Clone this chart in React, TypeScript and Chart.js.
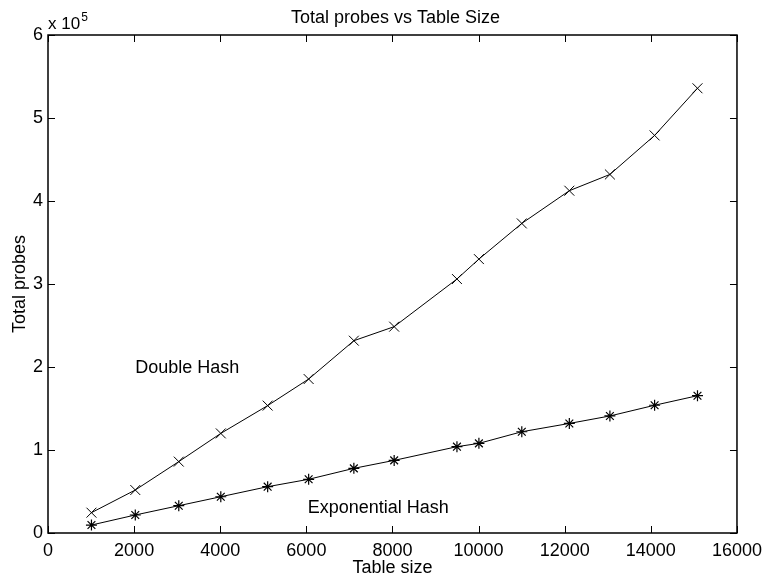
import React, { useEffect, useRef } from "react";
import { Chart, registerables } from "chart.js";

Chart.register(...registerables);

const tableSizes = [1009, 2027, 3037, 4013, 5101, 6053, 7103, 8039, 9497, 10007, 11003, 12107, 13049, 14087, 15083];
const doubleHash = [24500, 51800, 86000, 120000, 153500, 185500, 231700, 248600, 306000, 330000, 373000, 412400, 432000, 479000, 535800];
const exponentialHash = [9600, 21700, 32900, 43700, 55800, 64700, 77900, 87500, 104000, 108000, 122000, 132000, 141000, 153900, 165400];

const seriesNames = ["Double Hash", "Exponential Hash"];
const labelX = [2025, 6030];
const labelY = [199000, 30000];

const chartTitle = "Total probes vs Table Size";
const xTitle = "Table size";
const yTitle = "Total probes";
const xTicks = [0, 2000, 4000, 6000, 8000, 10000, 12000, 14000, 16000];
const yTicks = [0, 100000, 200000, 300000, 400000, 500000, 600000];

const FONT = "'Liberation Sans', Arial, Helvetica, sans-serif";

const framePlugin = {
  id: "matlabFrame",
  afterDatasetsDraw(chart: any) {
    const { ctx, chartArea, scales } = chart;
    const { left, right, top, bottom } = chartArea;
    ctx.save();
    ctx.strokeStyle = "#000";
    ctx.lineWidth = 1.5;
    ctx.beginPath();
    ctx.rect(left, top, right - left, bottom - top);
    ctx.stroke();
    ctx.lineWidth = 1;
    const tl = 7;
    ctx.beginPath();
    xTicks.forEach((v) => {
      const px = Math.round(scales.x.getPixelForValue(v)) + 0.5;
      ctx.moveTo(px, bottom);
      ctx.lineTo(px, bottom - tl);
      ctx.moveTo(px, top);
      ctx.lineTo(px, top + tl);
    });
    yTicks.forEach((v) => {
      const py = Math.round(scales.y.getPixelForValue(v)) + 0.5;
      ctx.moveTo(left, py);
      ctx.lineTo(left + tl, py);
      ctx.moveTo(right, py);
      ctx.lineTo(right - tl, py);
    });
    ctx.stroke();

    ctx.fillStyle = "#000";
    ctx.font = `18px ${FONT}`;
    ctx.textAlign = "center";
    ctx.textBaseline = "alphabetic";
    ctx.fillText(chartTitle, (left + right) / 2 + 3, 23);
    ctx.textAlign = "left";
    ctx.font = `17px ${FONT}`;
    ctx.fillText("x 10", left, 29);
    const w = ctx.measureText("x 10").width;
    ctx.font = `12px ${FONT}`;
    ctx.fillText("5", left + w + 1, 21);
    ctx.font = `18px ${FONT}`;
    ctx.textBaseline = "middle";
    seriesNames.forEach((name, i) => {
      ctx.fillText(name, scales.x.getPixelForValue(labelX[i]), scales.y.getPixelForValue(labelY[i]));
    });
    ctx.restore();
  },
};

export default function App() {
  const ref = useRef<HTMLCanvasElement>(null);
  useEffect(() => {
    if (!ref.current) return;
    const chart = new Chart(ref.current, {
      type: "line",
      data: {
        datasets: [
          {
            label: seriesNames[0],
            data: tableSizes.map((x, i) => ({ x, y: doubleHash[i] })),
            borderColor: "#000",
            backgroundColor: "#000",
            borderWidth: 1,
            pointStyle: "crossRot",
            pointRadius: 7,
            pointBorderWidth: 1,
            pointBorderColor: "#000",
            tension: 0,
            fill: false,
          },
          {
            label: seriesNames[1],
            data: tableSizes.map((x, i) => ({ x, y: exponentialHash[i] })),
            borderColor: "#000",
            backgroundColor: "#000",
            borderWidth: 1,
            pointStyle: "star",
            pointRadius: 5.5,
            pointBorderWidth: 1.2,
            pointBorderColor: "#000",
            tension: 0,
            fill: false,
          },
        ],
      },
      options: {
        animation: false,
        responsive: false,
        maintainAspectRatio: false,
        devicePixelRatio: 1,
        layout: { autoPadding: false, padding: { top: 35, right: 26, left: 0, bottom: 0 } },
        plugins: { legend: { display: false }, title: { display: false }, tooltip: { enabled: false } },
        scales: {
          x: {
            type: "linear",
            min: 0,
            max: 16000,
            afterFit: (s: any) => { s.height = 44; },
            afterBuildTicks: (s: any) => { s.ticks = xTicks.map((v) => ({ value: v })); },
            grid: { display: false, drawTicks: false },
            border: { display: false },
            ticks: {
              color: "#000",
              padding: 7,
              maxRotation: 0,
              font: { family: FONT, size: 18 },
              callback: (v: any) => String(v),
            },
            title: { display: true, text: xTitle, color: "#000", font: { family: FONT, size: 18 }, padding: { top: 0, bottom: -2 } },
          },
          y: {
            type: "linear",
            min: 0,
            max: 600000,
            afterFit: (s: any) => { s.width = 48; },
            afterBuildTicks: (s: any) => { s.ticks = yTicks.map((v) => ({ value: v })); },
            grid: { display: false, drawTicks: false },
            border: { display: false },
            ticks: {
              color: "#000",
              padding: 5,
              font: { family: FONT, size: 18 },
              callback: (v: any) => String(Number(v) / 100000),
            },
            title: { display: true, text: yTitle, color: "#000", font: { family: FONT, size: 18 }, padding: { top: 9, bottom: 0 } },
          },
        },
      },
      plugins: [framePlugin],
    });
    return () => chart.destroy();
  }, []);
  return (
    <div style={{ position: "absolute", left: 0, top: 0, width: 769, height: 577, background: "#fff" }}>
      <canvas ref={ref} width={769} height={577} />
    </div>
  );
}
